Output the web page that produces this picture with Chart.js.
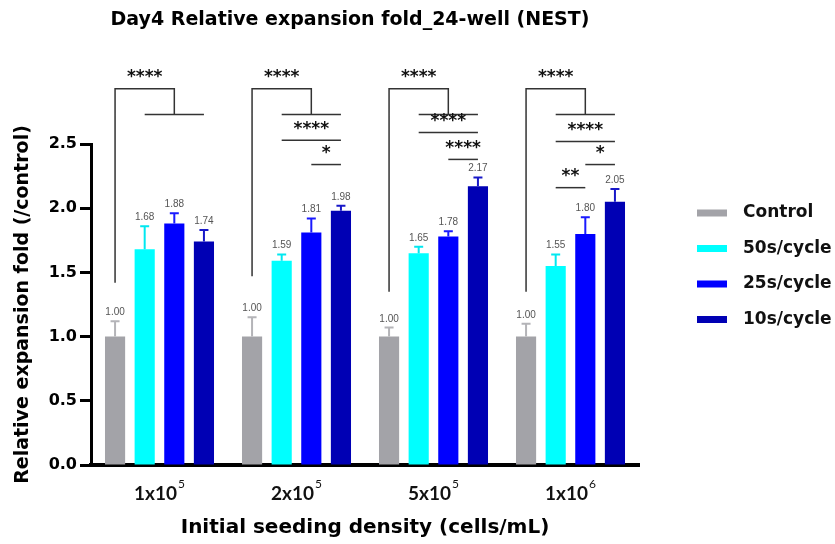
<!DOCTYPE html>
<html>
<head>
<meta charset="utf-8">
<script src="https://cdn.jsdelivr.net/npm/chart.js@4/dist/chart.umd.min.js"></script>
<style>
  html, body { margin: 0; padding: 0; background: #fff; }
  #wrap { width: 835px; height: 544px; }
</style>
</head>
<body>
<div id="wrap"><canvas id="grafico"></canvas></div>
<script>
// ---------- data ----------
const densityLabels = ["1x10^5", "2x10^5", "5x10^5", "1x10^6"];
const groupNames = ["Control", "50s/cycle", "25s/cycle", "10s/cycle"];
const control = [1.00, 1.00, 1.00, 1.00];
const cycle50 = [1.68, 1.59, 1.65, 1.55];
const cycle25 = [1.88, 1.81, 1.78, 1.80];
const cycle10 = [1.74, 1.98, 2.17, 2.05];
const errControl = [0.12, 0.15, 0.07, 0.10];
const err50 = [0.18, 0.05, 0.05, 0.09];
const err25 = [0.08, 0.11, 0.04, 0.13];
const err10 = [0.09, 0.04, 0.07, 0.10];
const yTicks = [0, 0.5, 1.0, 1.5, 2.0, 2.5];

// significance: control vs the rest, per density
const sigTopLabel = ["****", "****", "****", "****"];
const sigLegEnd = [1.42, 1.47, 1.35, 1.35];
// [density, fromBar, toBar, y, label]
const sigLines = [
    [1, 1, 3, 2.53, "****"], [1, 2, 3, 2.34, "*"],
    [2, 1, 3, 2.59, "****"], [2, 2, 3, 2.38, "****"],
    [3, 1, 3, 2.52, "****"], [3, 2, 3, 2.34, "*"], [3, 1, 2, 2.16, "**"]
];

const colors = ["#a3a3a8", "#00ffff", "#0000ff", "#0000b4"];
const errColors = ["#b4b4b8", "#00e8f0", "#1a1aff", "#1818c8"];
const values = [control, cycle50, cycle25, cycle10];
const errors = [errControl, err50, err25, err10];

const WIDE = "'DejaVu Sans'";

// =============================
// plugin: error bars, labels, brackets, legend, title
// =============================
const extras = {
    id: "extras",
    afterDatasetsDraw(chart) {
        const ctx = chart.ctx;
        const y = chart.scales.y;

        // error bars + value labels
        chart.data.datasets.forEach((ds, i) => {
            const meta = chart.getDatasetMeta(i);
            meta.data.forEach((bar, j) => {
                const top = y.getPixelForValue(values[i][j] + errors[i][j]);
                ctx.save();
                ctx.strokeStyle = errColors[i];
                ctx.lineWidth = 2;
                ctx.beginPath();
                ctx.moveTo(bar.x, bar.y);
                ctx.lineTo(bar.x, top);
                ctx.moveTo(bar.x - 4.5, top);
                ctx.lineTo(bar.x + 4.5, top);
                ctx.stroke();
                ctx.fillStyle = "#555";
                ctx.font = "10px 'Liberation Sans'";
                ctx.textAlign = "center";
                ctx.textBaseline = "alphabetic";
                ctx.fillText(values[i][j].toFixed(2), bar.x, top - 6);
                ctx.restore();
            });
        });

        // brackets
        const barX = (g, b) => chart.getDatasetMeta(b).data[g].x;
        ctx.save();
        ctx.strokeStyle = "#333";
        ctx.lineWidth = 1.5;
        ctx.fillStyle = "#111";
        ctx.font = `bold 17px ${WIDE}`;
        ctx.textAlign = "center";
        ctx.textBaseline = "middle";
        const yTop = y.getPixelForValue(2.93);
        const yDrop = y.getPixelForValue(2.73);
        densityLabels.forEach((_, g) => {
            const x0 = barX(g, 0), x1 = barX(g, 1), x3 = barX(g, 3);
            const xm = (x1 + x3) / 2;
            ctx.beginPath();
            ctx.moveTo(x0, y.getPixelForValue(sigLegEnd[g]));
            ctx.lineTo(x0, yTop);
            ctx.lineTo(xm, yTop);
            ctx.lineTo(xm, yDrop);
            ctx.moveTo(x1, yDrop);
            ctx.lineTo(x3, yDrop);
            ctx.stroke();
            ctx.fillText(sigTopLabel[g], (x0 + xm) / 2, yTop - 11);
        });
        sigLines.forEach(([g, a, b, v, lab]) => {
            const py = y.getPixelForValue(v);
            ctx.beginPath();
            ctx.moveTo(barX(g, a), py);
            ctx.lineTo(barX(g, b), py);
            ctx.stroke();
            ctx.fillText(lab, (barX(g, a) + barX(g, b)) / 2, py - 11);
        });
        ctx.restore();
    },
    afterDraw(chart) {
        const ctx = chart.ctx;
        const x = chart.scales.x;

        // x tick labels with superscript
        ctx.save();
        ctx.fillStyle = "#111";
        ctx.textBaseline = "middle";
        ctx.textAlign = "left";
        densityLabels.forEach((lab, i) => {
            const [base, exp] = lab.split("^");
            ctx.font = "bold 19px Lato";
            const wb = ctx.measureText(base).width;
            ctx.font = "12px Lato";
            const we = ctx.measureText(exp).width;
            const cx = x.getPixelForValue(i);
            const sx = cx - (wb + we + 1) / 2;
            ctx.font = "bold 19px Lato";
            ctx.fillText(base, sx, 494);
            ctx.font = "12px Lato";
            ctx.fillText(exp, sx + wb + 1, 484);
        });

        // title
        ctx.font = `bold 19px ${WIDE}`;
        ctx.textAlign = "center";
        ctx.fillStyle = "#000";
        ctx.fillText("Day4 Relative expansion fold_24-well (NEST)", 350, 20);

        // legend
        ctx.font = `bold 17px ${WIDE}`;
        ctx.textAlign = "left";
        groupNames.forEach((name, i) => {
            const ry = 213 + i * 35.5;
            ctx.fillStyle = colors[i];
            ctx.fillRect(697, ry - 3.5, 30, 7);
            ctx.fillStyle = "#111";
            ctx.fillText(name, 743, ry);
        });
        ctx.restore();
    }
};

new Chart(document.getElementById("grafico"), {
    type: "bar",
    data: {
        labels: densityLabels,
        datasets: groupNames.map((name, i) => ({
            label: name,
            data: values[i],
            backgroundColor: colors[i],
            borderWidth: 0,
            barPercentage: 0.68,
            categoryPercentage: 0.865
        }))
    },
    options: {
        responsive: true,
        maintainAspectRatio: false,
        animation: false,
        layout: { padding: { top: 144, right: 196, left: 0, bottom: 0 } },
        plugins: {
            legend: { display: false },
            tooltip: { enabled: false }
        },
        scales: {
            x: {
                afterFit: s => { s.height = 79; },
                border: { display: true, color: "#000", width: 4 },
                grid: { display: false },
                ticks: { display: false },
                title: {
                    display: true,
                    text: "Initial seeding density (cells/mL)",
                    color: "#000",
                    font: { family: "DejaVu Sans", weight: "bold", size: 20 },
                    padding: { bottom: 4 }
                }
            },
            y: {
                min: 0,
                max: 2.5,
                afterFit: s => { s.width = 91; },
                afterBuildTicks: s => { s.ticks = yTicks.map(v => ({ value: v })); },
                border: { display: true, color: "#000", width: 3 },
                grid: { drawOnChartArea: false, drawTicks: true, tickLength: 11, tickWidth: 3, tickColor: "#000" },
                ticks: {
                    color: "#000",
                    padding: 3,
                    font: { family: "DejaVu Sans", weight: "bold", size: 16 },
                    callback: v => v.toFixed(1)
                },
                title: {
                    display: true,
                    text: "Relative expansion fold (/control)",
                    color: "#000",
                    font: { family: "DejaVu Sans", weight: "bold", size: 19 },
                    padding: { top: 12 }
                }
            }
        }
    },
    plugins: [extras]
});
</script>
</body>
</html>
